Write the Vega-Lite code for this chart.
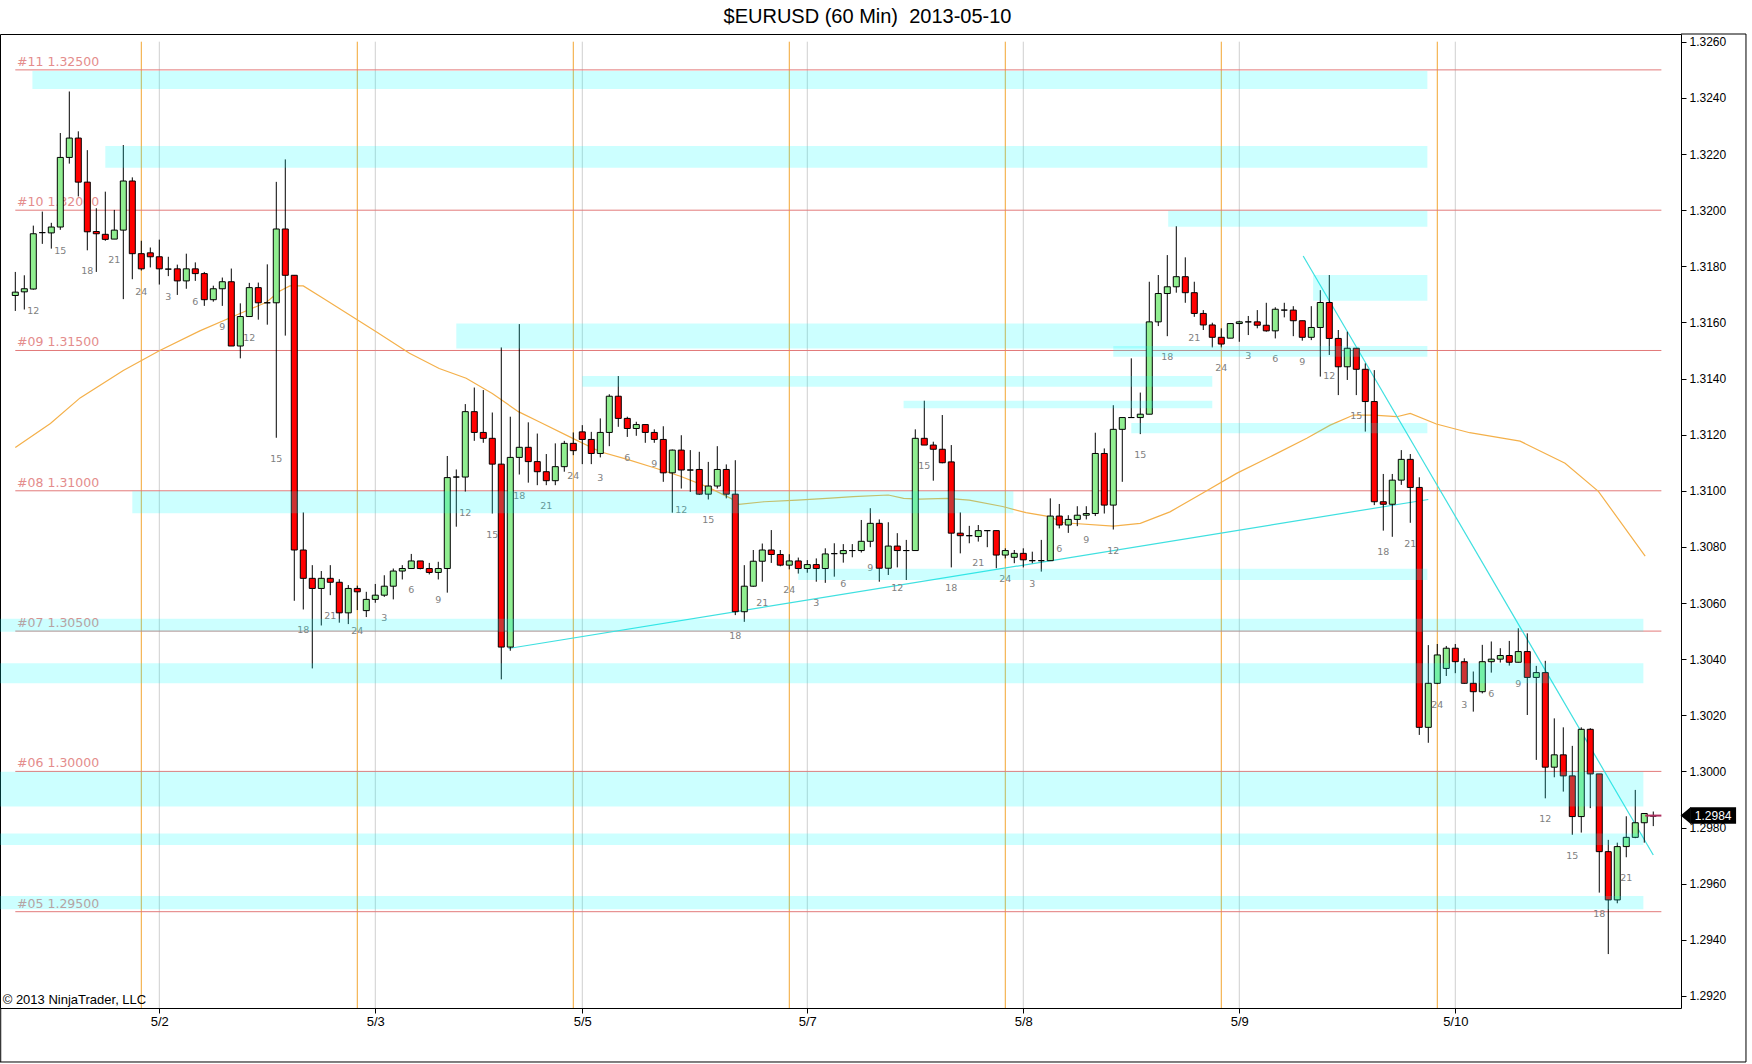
{
  "$schema": "https://vega.github.io/schema/vega-lite/v6.json",
  "width": 1681,
  "height": 974,
  "autosize": {"type": "none"},
  "padding": {"left": 0, "top": 34, "right": 71, "bottom": 56},
  "background": "white",
  "view": {"stroke": "black", "strokeWidth": 1},
  "config": {"font": "Liberation Sans"},
  "title": {
    "text": "$EURUSD (60 Min)\u00a0 2013-05-10",
    "font": "Liberation Sans", "fontSize": 20, "fontWeight": "normal", "color": "black",
    "anchor": "middle", "frame": "group", "baseline": "alphabetic", "offset": 11, "dx": 27, "dy": 20
  },
  "datasets": {
    "candles": [
      {"i":0,"o":1.31696,"h":1.31780,"l":1.31641,"c":1.31708},
      {"i":1,"o":1.31709,"h":1.31768,"l":1.31646,"c":1.31720},
      {"i":2,"o":1.31719,"h":1.31945,"l":1.31717,"c":1.31916,"t":"12"},
      {"i":3,"o":1.31920,"h":1.31995,"l":1.31880,"c":1.31920},
      {"i":4,"o":1.31919,"h":1.31955,"l":1.31863,"c":1.31940},
      {"i":5,"o":1.31940,"h":1.32275,"l":1.31930,"c":1.32188,"t":"15"},
      {"i":6,"o":1.32188,"h":1.32423,"l":1.32166,"c":1.32257},
      {"i":7,"o":1.32257,"h":1.32281,"l":1.32049,"c":1.32100},
      {"i":8,"o":1.32100,"h":1.32214,"l":1.31857,"c":1.31923,"t":"18"},
      {"i":9,"o":1.31924,"h":1.32007,"l":1.31780,"c":1.31916},
      {"i":10,"o":1.31914,"h":1.32066,"l":1.31891,"c":1.31896},
      {"i":11,"o":1.31897,"h":1.32001,"l":1.31897,"c":1.31929,"t":"21"},
      {"i":12,"o":1.31929,"h":1.32232,"l":1.31683,"c":1.32104},
      {"i":13,"o":1.32104,"h":1.32117,"l":1.31754,"c":1.31845},
      {"i":14,"o":1.31845,"h":1.31891,"l":1.31785,"c":1.31791,"t":"24"},
      {"i":15,"o":1.31848,"h":1.31867,"l":1.31796,"c":1.31834},
      {"i":16,"o":1.31834,"h":1.31895,"l":1.31735,"c":1.31791},
      {"i":17,"o":1.31790,"h":1.31834,"l":1.31765,"c":1.31790,"t":"3"},
      {"i":18,"o":1.31791,"h":1.31806,"l":1.31698,"c":1.31748},
      {"i":19,"o":1.31748,"h":1.31845,"l":1.31720,"c":1.31791},
      {"i":20,"o":1.31791,"h":1.31814,"l":1.31748,"c":1.31774,"t":"6"},
      {"i":21,"o":1.31774,"h":1.31780,"l":1.31659,"c":1.31681},
      {"i":22,"o":1.31681,"h":1.31731,"l":1.31674,"c":1.31720},
      {"i":23,"o":1.31720,"h":1.31760,"l":1.31659,"c":1.31745,"t":"9"},
      {"i":24,"o":1.31745,"h":1.31792,"l":1.31516,"c":1.31516},
      {"i":25,"o":1.31516,"h":1.31668,"l":1.31472,"c":1.31621},
      {"i":26,"o":1.31621,"h":1.31741,"l":1.31621,"c":1.31724,"t":"12"},
      {"i":27,"o":1.31724,"h":1.31742,"l":1.31610,"c":1.31670},
      {"i":28,"o":1.31670,"h":1.31807,"l":1.31592,"c":1.31670},
      {"i":29,"o":1.31670,"h":1.32101,"l":1.31189,"c":1.31933,"t":"15"},
      {"i":30,"o":1.31933,"h":1.32181,"l":1.31553,"c":1.31768},
      {"i":31,"o":1.31768,"h":1.31768,"l":1.30608,"c":1.30789},
      {"i":32,"o":1.30789,"h":1.30923,"l":1.30577,"c":1.30688,"t":"18"},
      {"i":33,"o":1.30688,"h":1.30735,"l":1.30367,"c":1.30652},
      {"i":34,"o":1.30652,"h":1.30714,"l":1.30520,"c":1.30688},
      {"i":35,"o":1.30688,"h":1.30735,"l":1.30628,"c":1.30674,"t":"21"},
      {"i":36,"o":1.30674,"h":1.30685,"l":1.30530,"c":1.30565},
      {"i":37,"o":1.30565,"h":1.30664,"l":1.30525,"c":1.30652},
      {"i":38,"o":1.30652,"h":1.30662,"l":1.30575,"c":1.30640,"t":"24"},
      {"i":39,"o":1.30573,"h":1.30640,"l":1.30550,"c":1.30613},
      {"i":40,"o":1.30613,"h":1.30668,"l":1.30601,"c":1.30628},
      {"i":41,"o":1.30628,"h":1.30699,"l":1.30622,"c":1.30660,"t":"3"},
      {"i":42,"o":1.30660,"h":1.30723,"l":1.30613,"c":1.30714},
      {"i":43,"o":1.30714,"h":1.30735,"l":1.30684,"c":1.30723},
      {"i":44,"o":1.30723,"h":1.30775,"l":1.30723,"c":1.30750,"t":"6"},
      {"i":45,"o":1.30750,"h":1.30750,"l":1.30720,"c":1.30723},
      {"i":46,"o":1.30723,"h":1.30743,"l":1.30702,"c":1.30709},
      {"i":47,"o":1.30709,"h":1.30747,"l":1.30684,"c":1.30723,"t":"9"},
      {"i":48,"o":1.30723,"h":1.31124,"l":1.30637,"c":1.31047},
      {"i":49,"o":1.31049,"h":1.31076,"l":1.30872,"c":1.31049},
      {"i":50,"o":1.31049,"h":1.31309,"l":1.30997,"c":1.31282,"t":"12"},
      {"i":51,"o":1.31282,"h":1.31368,"l":1.31178,"c":1.31208},
      {"i":52,"o":1.31208,"h":1.31359,"l":1.31171,"c":1.31187},
      {"i":53,"o":1.31187,"h":1.31279,"l":1.30919,"c":1.31095,"t":"15"},
      {"i":54,"o":1.31095,"h":1.31511,"l":1.30328,"c":1.30443},
      {"i":55,"o":1.30443,"h":1.31264,"l":1.30430,"c":1.31119},
      {"i":56,"o":1.31119,"h":1.31594,"l":1.31058,"c":1.31155,"t":"18"},
      {"i":57,"o":1.31155,"h":1.31244,"l":1.31029,"c":1.31104},
      {"i":58,"o":1.31104,"h":1.31204,"l":1.31020,"c":1.31068},
      {"i":59,"o":1.31068,"h":1.31131,"l":1.31020,"c":1.31036,"t":"21"},
      {"i":60,"o":1.31036,"h":1.31169,"l":1.31020,"c":1.31086},
      {"i":61,"o":1.31086,"h":1.31178,"l":1.31068,"c":1.31169},
      {"i":62,"o":1.31169,"h":1.31208,"l":1.31127,"c":1.31143,"t":"24"},
      {"i":63,"o":1.31210,"h":1.31234,"l":1.31095,"c":1.31183},
      {"i":64,"o":1.31183,"h":1.31210,"l":1.31095,"c":1.31133},
      {"i":65,"o":1.31133,"h":1.31258,"l":1.31119,"c":1.31208,"t":"3"},
      {"i":66,"o":1.31208,"h":1.31344,"l":1.31159,"c":1.31337},
      {"i":67,"o":1.31337,"h":1.31409,"l":1.31228,"c":1.31258},
      {"i":68,"o":1.31258,"h":1.31264,"l":1.31192,"c":1.31222,"t":"6"},
      {"i":69,"o":1.31222,"h":1.31246,"l":1.31196,"c":1.31236},
      {"i":70,"o":1.31236,"h":1.31236,"l":1.31171,"c":1.31208},
      {"i":71,"o":1.31208,"h":1.31219,"l":1.31171,"c":1.31183,"t":"9"},
      {"i":72,"o":1.31183,"h":1.31230,"l":1.31032,"c":1.31064},
      {"i":73,"o":1.31064,"h":1.31147,"l":1.30922,"c":1.31145},
      {"i":74,"o":1.31145,"h":1.31198,"l":1.31008,"c":1.31074,"t":"12"},
      {"i":75,"o":1.31074,"h":1.31145,"l":1.30996,"c":1.31074},
      {"i":76,"o":1.31076,"h":1.31139,"l":1.30985,"c":1.30988},
      {"i":77,"o":1.30988,"h":1.31103,"l":1.30969,"c":1.31017,"t":"15"},
      {"i":78,"o":1.31017,"h":1.31159,"l":1.31008,"c":1.31076},
      {"i":79,"o":1.31076,"h":1.31094,"l":1.30973,"c":1.30988},
      {"i":80,"o":1.30988,"h":1.31109,"l":1.30557,"c":1.30569,"t":"18"},
      {"i":81,"o":1.30569,"h":1.30735,"l":1.30533,"c":1.30660},
      {"i":82,"o":1.30660,"h":1.30789,"l":1.30658,"c":1.30749},
      {"i":83,"o":1.30749,"h":1.30812,"l":1.30676,"c":1.30789,"t":"21"},
      {"i":84,"o":1.30789,"h":1.30860,"l":1.30743,"c":1.30773},
      {"i":85,"o":1.30773,"h":1.30789,"l":1.30731,"c":1.30735},
      {"i":86,"o":1.30735,"h":1.30774,"l":1.30720,"c":1.30750,"t":"24"},
      {"i":87,"o":1.30750,"h":1.30762,"l":1.30705,"c":1.30723},
      {"i":88,"o":1.30723,"h":1.30753,"l":1.30708,"c":1.30737},
      {"i":89,"o":1.30737,"h":1.30759,"l":1.30676,"c":1.30723,"t":"3"},
      {"i":90,"o":1.30723,"h":1.30795,"l":1.30672,"c":1.30775},
      {"i":91,"o":1.30776,"h":1.30813,"l":1.30694,"c":1.30776},
      {"i":92,"o":1.30776,"h":1.30810,"l":1.30744,"c":1.30787,"t":"6"},
      {"i":93,"o":1.30787,"h":1.30810,"l":1.30763,"c":1.30787},
      {"i":94,"o":1.30787,"h":1.30896,"l":1.30780,"c":1.30820},
      {"i":95,"o":1.30820,"h":1.30938,"l":1.30799,"c":1.30884,"t":"9"},
      {"i":96,"o":1.30884,"h":1.30898,"l":1.30676,"c":1.30724},
      {"i":97,"o":1.30724,"h":1.30888,"l":1.30700,"c":1.30803},
      {"i":98,"o":1.30803,"h":1.30849,"l":1.30727,"c":1.30787,"t":"12"},
      {"i":99,"o":1.30787,"h":1.30825,"l":1.30682,"c":1.30787},
      {"i":100,"o":1.30787,"h":1.31219,"l":1.30787,"c":1.31187},
      {"i":101,"o":1.31187,"h":1.31321,"l":1.31163,"c":1.31163,"t":"15"},
      {"i":102,"o":1.31163,"h":1.31175,"l":1.31036,"c":1.31148},
      {"i":103,"o":1.31148,"h":1.31270,"l":1.31098,"c":1.31100},
      {"i":104,"o":1.31103,"h":1.31163,"l":1.30727,"c":1.30849,"t":"18"},
      {"i":105,"o":1.30849,"h":1.30923,"l":1.30777,"c":1.30840},
      {"i":106,"o":1.30840,"h":1.30875,"l":1.30813,"c":1.30840},
      {"i":107,"o":1.30837,"h":1.30878,"l":1.30819,"c":1.30858,"t":"21"},
      {"i":108,"o":1.30858,"h":1.30858,"l":1.30799,"c":1.30858},
      {"i":109,"o":1.30858,"h":1.30858,"l":1.30724,"c":1.30771},
      {"i":110,"o":1.30771,"h":1.30795,"l":1.30759,"c":1.30787,"t":"24"},
      {"i":111,"o":1.30763,"h":1.30789,"l":1.30742,"c":1.30777},
      {"i":112,"o":1.30777,"h":1.30795,"l":1.30727,"c":1.30754},
      {"i":113,"o":1.30751,"h":1.30783,"l":1.30742,"c":1.30751,"t":"3"},
      {"i":114,"o":1.30751,"h":1.30825,"l":1.30712,"c":1.30751},
      {"i":115,"o":1.30751,"h":1.30973,"l":1.30751,"c":1.30910},
      {"i":116,"o":1.30910,"h":1.30953,"l":1.30866,"c":1.30878,"t":"6"},
      {"i":117,"o":1.30878,"h":1.30913,"l":1.30850,"c":1.30898},
      {"i":118,"o":1.30898,"h":1.30945,"l":1.30874,"c":1.30913},
      {"i":119,"o":1.30913,"h":1.30945,"l":1.30898,"c":1.30919,"t":"9"},
      {"i":120,"o":1.30919,"h":1.31207,"l":1.30910,"c":1.31133},
      {"i":121,"o":1.31133,"h":1.31151,"l":1.30919,"c":1.30949},
      {"i":122,"o":1.30949,"h":1.31305,"l":1.30862,"c":1.31219,"t":"12"},
      {"i":123,"o":1.31219,"h":1.31261,"l":1.31032,"c":1.31261},
      {"i":124,"o":1.31261,"h":1.31472,"l":1.31261,"c":1.31261},
      {"i":125,"o":1.31261,"h":1.31350,"l":1.31202,"c":1.31273,"t":"15"},
      {"i":126,"o":1.31273,"h":1.31745,"l":1.31273,"c":1.31602},
      {"i":127,"o":1.31602,"h":1.31769,"l":1.31587,"c":1.31703},
      {"i":128,"o":1.31703,"h":1.31840,"l":1.31551,"c":1.31727,"t":"18"},
      {"i":129,"o":1.31727,"h":1.31943,"l":1.31706,"c":1.31763},
      {"i":130,"o":1.31763,"h":1.31832,"l":1.31670,"c":1.31706},
      {"i":131,"o":1.31706,"h":1.31745,"l":1.31620,"c":1.31632,"t":"21"},
      {"i":132,"o":1.31632,"h":1.31644,"l":1.31573,"c":1.31591},
      {"i":133,"o":1.31591,"h":1.31599,"l":1.31511,"c":1.31547},
      {"i":134,"o":1.31547,"h":1.31579,"l":1.31511,"c":1.31523,"t":"24"},
      {"i":135,"o":1.31544,"h":1.31596,"l":1.31544,"c":1.31596},
      {"i":136,"o":1.31596,"h":1.31606,"l":1.31531,"c":1.31602},
      {"i":137,"o":1.31602,"h":1.31623,"l":1.31555,"c":1.31602,"t":"3"},
      {"i":138,"o":1.31602,"h":1.31644,"l":1.31579,"c":1.31590},
      {"i":139,"o":1.31590,"h":1.31670,"l":1.31567,"c":1.31570},
      {"i":140,"o":1.31570,"h":1.31654,"l":1.31543,"c":1.31647,"t":"6"},
      {"i":141,"o":1.31644,"h":1.31670,"l":1.31618,"c":1.31644},
      {"i":142,"o":1.31644,"h":1.31658,"l":1.31551,"c":1.31606},
      {"i":143,"o":1.31606,"h":1.31606,"l":1.31535,"c":1.31547,"t":"9"},
      {"i":144,"o":1.31547,"h":1.31658,"l":1.31537,"c":1.31582},
      {"i":145,"o":1.31582,"h":1.31715,"l":1.31407,"c":1.31671},
      {"i":146,"o":1.31671,"h":1.31769,"l":1.31484,"c":1.31543,"t":"12"},
      {"i":147,"o":1.31543,"h":1.31573,"l":1.31341,"c":1.31442},
      {"i":148,"o":1.31442,"h":1.31567,"l":1.31395,"c":1.31508},
      {"i":149,"o":1.31508,"h":1.31508,"l":1.31341,"c":1.31433,"t":"15"},
      {"i":150,"o":1.31433,"h":1.31454,"l":1.31211,"c":1.31318},
      {"i":151,"o":1.31318,"h":1.31430,"l":1.30949,"c":1.30961},
      {"i":152,"o":1.30961,"h":1.31060,"l":1.30858,"c":1.30952,"t":"18"},
      {"i":153,"o":1.30952,"h":1.31060,"l":1.30836,"c":1.31038},
      {"i":154,"o":1.31038,"h":1.31145,"l":1.31021,"c":1.31112},
      {"i":155,"o":1.31112,"h":1.31131,"l":1.30886,"c":1.31012,"t":"21"},
      {"i":156,"o":1.31012,"h":1.31048,"l":1.30130,"c":1.30157},
      {"i":157,"o":1.30157,"h":1.30450,"l":1.30102,"c":1.30314},
      {"i":158,"o":1.30314,"h":1.30454,"l":1.30311,"c":1.30415,"t":"24"},
      {"i":159,"o":1.30367,"h":1.30447,"l":1.30340,"c":1.30439},
      {"i":160,"o":1.30439,"h":1.30454,"l":1.30350,"c":1.30391},
      {"i":161,"o":1.30391,"h":1.30403,"l":1.30312,"c":1.30314,"t":"3"},
      {"i":162,"o":1.30314,"h":1.30356,"l":1.30213,"c":1.30284},
      {"i":163,"o":1.30284,"h":1.30451,"l":1.30278,"c":1.30391},
      {"i":164,"o":1.30391,"h":1.30463,"l":1.30352,"c":1.30400,"t":"6"},
      {"i":165,"o":1.30400,"h":1.30439,"l":1.30388,"c":1.30413},
      {"i":166,"o":1.30413,"h":1.30465,"l":1.30377,"c":1.30389},
      {"i":167,"o":1.30389,"h":1.30510,"l":1.30388,"c":1.30427,"t":"9"},
      {"i":168,"o":1.30427,"h":1.30492,"l":1.30201,"c":1.30335},
      {"i":169,"o":1.30335,"h":1.30376,"l":1.30041,"c":1.30352},
      {"i":170,"o":1.30352,"h":1.30394,"l":1.29904,"c":1.30015,"t":"12"},
      {"i":171,"o":1.30015,"h":1.30189,"l":1.29979,"c":1.30059},
      {"i":172,"o":1.30059,"h":1.30157,"l":1.29928,"c":1.29984},
      {"i":173,"o":1.29984,"h":1.30091,"l":1.29774,"c":1.29839,"t":"15"},
      {"i":174,"o":1.29839,"h":1.30157,"l":1.29782,"c":1.30150},
      {"i":175,"o":1.30150,"h":1.30154,"l":1.29869,"c":1.29991},
      {"i":176,"o":1.29991,"h":1.29991,"l":1.29568,"c":1.29714,"t":"18"},
      {"i":177,"o":1.29714,"h":1.29756,"l":1.29349,"c":1.29542},
      {"i":178,"o":1.29542,"h":1.29746,"l":1.29530,"c":1.29732},
      {"i":179,"o":1.29732,"h":1.29840,"l":1.29694,"c":1.29765,"t":"21"},
      {"i":180,"o":1.29765,"h":1.29934,"l":1.29762,"c":1.29817},
      {"i":181,"o":1.29817,"h":1.29850,"l":1.29746,"c":1.29850},
      {"i":182,"o":1.29841,"h":1.29857,"l":1.29805,"c":1.29841}
    ],
    "ma": [
      {"i":0,"v":1.31154},{"i":3.9,"v":1.31240},{"i":7.2,"v":1.31331},{"i":12,"v":1.31429},
      {"i":16,"v":1.31499},{"i":20.5,"v":1.31570},{"i":24.2,"v":1.31621},{"i":27.9,"v":1.31672},
      {"i":29.4,"v":1.31712},{"i":30.5,"v":1.31730},{"i":32,"v":1.31730},{"i":34.2,"v":1.31686},
      {"i":37.9,"v":1.31611},{"i":40.1,"v":1.31567},{"i":43.8,"v":1.31490},{"i":47.1,"v":1.31436},
      {"i":50.1,"v":1.31401},{"i":53,"v":1.31347},{"i":55.9,"v":1.31282},{"i":58.2,"v":1.31246},
      {"i":62,"v":1.31186},{"i":65,"v":1.31139},{"i":68,"v":1.31112},{"i":70.9,"v":1.31083},
      {"i":73.9,"v":1.31052},{"i":76.9,"v":1.31014},{"i":79.5,"v":1.30973},{"i":80.4,"v":1.30952},
      {"i":83.2,"v":1.30961},{"i":86.9,"v":1.30967},{"i":90.6,"v":1.30974},{"i":93.1,"v":1.30979},
      {"i":97,"v":1.30985},{"i":98.7,"v":1.30973},{"i":100.5,"v":1.30970},{"i":103.5,"v":1.30973},
      {"i":106,"v":1.30967},{"i":109.7,"v":1.30944},{"i":112.3,"v":1.30922},{"i":114.9,"v":1.30908},
      {"i":116.5,"v":1.30886},{"i":122,"v":1.30874},{"i":125,"v":1.30884},{"i":128.3,"v":1.30925},
      {"i":132,"v":1.30993},{"i":135.7,"v":1.31062},{"i":139.8,"v":1.31127},{"i":143.5,"v":1.31187},
      {"i":146.1,"v":1.31234},{"i":148.7,"v":1.31270},{"i":150.9,"v":1.31270},{"i":153.5,"v":1.31264},
      {"i":155,"v":1.31276},{"i":157.9,"v":1.31238},{"i":161.6,"v":1.31207},{"i":167.2,"v":1.31177},
      {"i":172.2,"v":1.31098},{"i":175.9,"v":1.30998},{"i":181.1,"v":1.30767}
    ],
    "trend": [
      {"i1":54.8,"p1":1.30438,"i2":157,"p2":1.30969},
      {"i1":143.1,"p1":1.31837,"i2":182,"p2":1.29702}
    ],
    "bands": [
      {"i1":1.9,"i2":156.9,"p1":1.32432,"p2":1.32496},
      {"i1":10,"i2":156.9,"p1":1.32151,"p2":1.32229},
      {"i1":128.1,"i2":156.9,"p1":1.31941,"p2":1.31998},
      {"i1":144.2,"i2":156.9,"p1":1.31677,"p2":1.31769},
      {"i1":49,"i2":125.7,"p1":1.31507,"p2":1.31596},
      {"i1":122,"i2":156.9,"p1":1.31478,"p2":1.31516},
      {"i1":63,"i2":133,"p1":1.31371,"p2":1.31409},
      {"i1":98.7,"i2":133,"p1":1.31294,"p2":1.31321},
      {"i1":124,"i2":156.9,"p1":1.31205,"p2":1.31242},
      {"i1":13,"i2":110.9,"p1":1.30920,"p2":1.30998},
      {"i1":87,"i2":156.9,"p1":1.30682,"p2":1.30722},
      {"i1":-1.7,"i2":180.9,"p1":1.30498,"p2":1.30544},
      {"i1":-1.7,"i2":180.9,"p1":1.30314,"p2":1.30385},
      {"i1":-1.7,"i2":180.9,"p1":1.29875,"p2":1.29999},
      {"i1":-1.7,"i2":180.9,"p1":1.29738,"p2":1.29779},
      {"i1":-1.7,"i2":180.9,"p1":1.29509,"p2":1.29556}
    ],
    "levels": [
      {"p":1.3250,"t":"#11 1.32500"},
      {"p":1.3200,"t":"#10 1.32000"},
      {"p":1.3150,"t":"#09 1.31500"},
      {"p":1.3100,"t":"#08 1.31000"},
      {"p":1.3050,"t":"#07 1.30500"},
      {"p":1.3000,"t":"#06 1.30000"},
      {"p":1.2950,"t":"#05 1.29500"}
    ],
    "days": [
      {"i":14,"k":"session"},{"i":16,"k":"day"},
      {"i":38,"k":"session"},{"i":40,"k":"day"},
      {"i":62,"k":"session"},{"i":63,"k":"day"},
      {"i":86,"k":"session"},{"i":88,"k":"day"},
      {"i":110,"k":"session"},{"i":112,"k":"day"},
      {"i":134,"k":"session"},{"i":136,"k":"day"},
      {"i":158,"k":"session"},{"i":160,"k":"day"}
    ],
    "frame": [
      {"x1":185.08,"x2":192.3,"y1":1.326279,"y2":1.326279},
      {"x1":192.3,"x2":192.3,"y1":1.326279,"y2":1.289644},
      {"x1":-1.7,"x2":192.3,"y1":1.289644,"y2":1.289644},
      {"x1":-1.62,"x2":-1.62,"y1":1.291568,"y2":1.289644}
    ],
    "marker": [
      {"x1":186.1,"x2":191.2,"y1":1.29813,"y2":1.29872,"xa":185.6,"xt":188.65,"y":1.298425,"t":"1.2984"}
    ],
    "notes": [
      {"x":-1.4,"y":1.29172,"t":"\u00a9 2013 NinjaTrader, LLC"}
    ]
  },
  "layer": [
    {
      "data": {"name": "days"},
      "mark": {"type": "rule", "strokeWidth": 1},
      "encoding": {
        "x": {"field": "i", "type": "quantitative", "title": null,
              "scale": {"domain": [-1.7, 185.08], "nice": false, "zero": false, "padding": 0},
              "axis": {"values": [16, 40, 63, 88, 112, 136, 160],
                       "labelExpr": "datum.value == 16 ? '5/2' : datum.value == 40 ? '5/3' : datum.value == 63 ? '5/5' : datum.value == 88 ? '5/7' : datum.value == 112 ? '5/8' : datum.value == 136 ? '5/9' : '5/10'",
                       "grid": false, "domain": false, "tickSize": 5, "tickColor": "black",
                       "labelFontSize": 13, "labelColor": "black", "labelPadding": 2,
                       "labelFont": "Liberation Sans", "labelFlush": false, "title": null}},
        "y": {"datum": 1.326005, "type": "quantitative",
              "scale": {"domain": [1.291568, 1.326279], "nice": false, "zero": false, "padding": 0},
              "axis": {"orient": "right",
                       "values": [1.292, 1.294, 1.296, 1.298, 1.300, 1.302, 1.304, 1.306, 1.308, 1.310, 1.312, 1.314, 1.316, 1.318, 1.320, 1.322, 1.324, 1.326],
                       "format": ".4f", "grid": false, "domain": false, "tickSize": 5, "tickColor": "black",
                       "labelFontSize": 12, "labelColor": "black", "labelPadding": 3,
                       "labelFont": "Liberation Sans", "labelFlush": false, "labelOverlap": false, "title": null}},
        "y2": {"datum": 1.291568},
        "color": {"field": "k", "type": "nominal",
                  "scale": {"domain": ["session", "day"], "range": ["#F2A531", "#CFCFCF"]},
                  "legend": null}
      }
    },
    {
      "data": {"name": "levels"},
      "layer": [
        {
          "mark": {"type": "rule", "color": "#E27A7A", "strokeWidth": 1},
          "encoding": {
            "x": {"datum": 0.0, "type": "quantitative"},
            "x2": {"datum": 182.9},
            "y": {"field": "p", "type": "quantitative", "title": null}
          }
        },
        {
          "mark": {"type": "text", "align": "left", "baseline": "alphabetic", "dy": -4,
                   "font": "DejaVu Sans", "fontSize": 12.5, "color": "#E48C8C"},
          "encoding": {
            "x": {"datum": 0.2, "type": "quantitative"},
            "y": {"field": "p", "type": "quantitative", "title": null},
            "text": {"field": "t"}
          }
        }
      ]
    },
    {
      "data": {"name": "ma"},
      "mark": {"type": "line", "color": "#F4B04A", "strokeWidth": 1.2},
      "encoding": {
        "x": {"field": "i", "type": "quantitative", "title": null},
        "y": {"field": "v", "type": "quantitative", "title": null}
      }
    },
    {
      "data": {"name": "trend"},
      "mark": {"type": "rule", "color": "#3FE0E0", "strokeWidth": 1.2},
      "encoding": {
        "x": {"field": "i1", "type": "quantitative", "title": null},
        "x2": {"field": "i2"},
        "y": {"field": "p1", "type": "quantitative", "title": null},
        "y2": {"field": "p2"}
      }
    },
    {
      "data": {"name": "candles"},
      "layer": [
        {
          "mark": {"type": "rule", "color": "black", "strokeWidth": 1},
          "encoding": {
            "x": {"field": "i", "type": "quantitative", "title": null},
            "y": {"field": "l", "type": "quantitative", "title": null},
            "y2": {"field": "h"}
          }
        },
        {
          "mark": {"type": "bar", "width": 6, "stroke": "black", "strokeWidth": 1},
          "encoding": {
            "x": {"field": "i", "type": "quantitative", "title": null},
            "y": {"field": "o", "type": "quantitative", "title": null},
            "y2": {"field": "c"},
            "fill": {"condition": {"test": "datum.c >= datum.o", "value": "#90EE90"}, "value": "#FF0000"}
          }
        },
        {
          "transform": [{"filter": "isValid(datum.t)"}],
          "mark": {"type": "text", "dy": 21, "baseline": "middle", "align": "center",
                   "font": "DejaVu Sans", "fontSize": 9.5, "color": "#7F7F7F"},
          "encoding": {
            "x": {"field": "i", "type": "quantitative", "title": null},
            "y": {"field": "l", "type": "quantitative", "title": null},
            "text": {"field": "t"}
          }
        }
      ]
    },
    {
      "data": {"name": "bands"},
      "mark": {"type": "rect", "color": "#00FFFF", "opacity": 0.2},
      "encoding": {
        "x": {"field": "i1", "type": "quantitative", "title": null},
        "x2": {"field": "i2"},
        "y": {"field": "p1", "type": "quantitative", "title": null},
        "y2": {"field": "p2"}
      }
    },
    {
      "data": {"name": "marker"},
      "layer": [
        {
          "mark": {"type": "rule", "color": "#B03060", "strokeWidth": 2},
          "encoding": {
            "x": {"datum": 181.1, "type": "quantitative"},
            "x2": {"datum": 182.9},
            "y": {"field": "y", "type": "quantitative", "title": null}
          }
        },
        {
          "mark": {"type": "rect", "color": "black"},
          "encoding": {
            "x": {"field": "x1", "type": "quantitative", "title": null},
            "x2": {"field": "x2"},
            "y": {"field": "y1", "type": "quantitative", "title": null},
            "y2": {"field": "y2"}
          }
        },
        {
          "mark": {"type": "point", "shape": "M 0.6 -1 L -0.6 0 L 0.6 1 Z", "filled": true, "color": "black", "opacity": 1, "size": 289},
          "encoding": {
            "x": {"field": "xa", "type": "quantitative", "title": null},
            "y": {"field": "y", "type": "quantitative", "title": null}
          }
        },
        {
          "mark": {"type": "text", "color": "white", "font": "Liberation Sans", "fontSize": 12, "align": "center", "baseline": "middle"},
          "encoding": {
            "x": {"field": "xt", "type": "quantitative", "title": null},
            "y": {"field": "y", "type": "quantitative", "title": null},
            "text": {"field": "t"}
          }
        }
      ]
    },
    {
      "data": {"name": "notes"},
      "mark": {"type": "text", "color": "black", "font": "Liberation Sans", "fontSize": 13, "align": "left", "baseline": "alphabetic"},
      "encoding": {
        "x": {"field": "x", "type": "quantitative", "title": null},
        "y": {"field": "y", "type": "quantitative", "title": null},
        "text": {"field": "t"}
      }
    },
    {
      "data": {"name": "frame"},
      "mark": {"type": "rule", "color": "black", "strokeWidth": 1},
      "encoding": {
        "x": {"field": "x1", "type": "quantitative", "title": null},
        "x2": {"field": "x2"},
        "y": {"field": "y1", "type": "quantitative", "title": null},
        "y2": {"field": "y2"}
      }
    }
  ]
}
